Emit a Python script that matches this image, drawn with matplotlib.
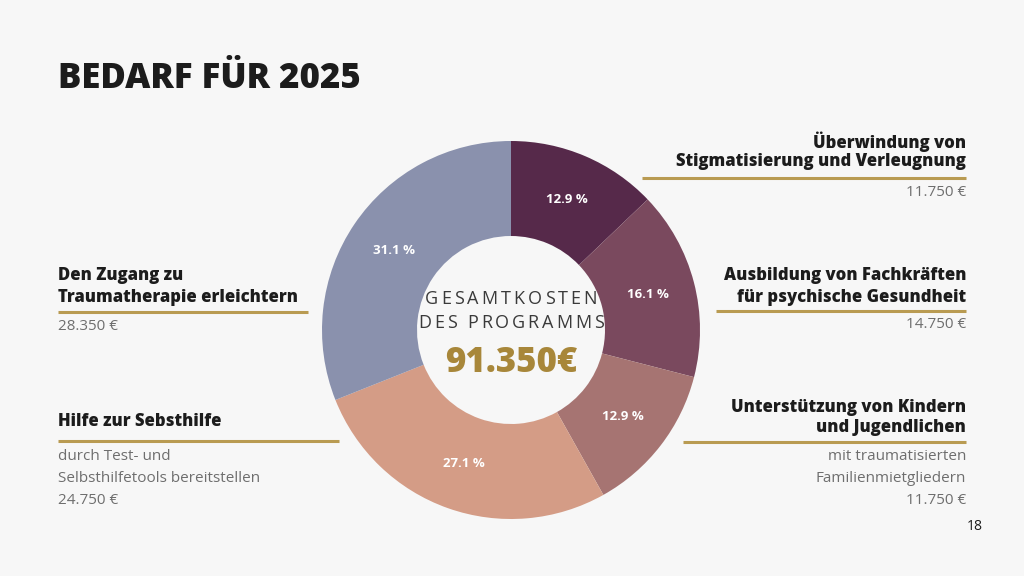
import matplotlib
matplotlib.use("Agg")
import matplotlib.pyplot as plt
from matplotlib.font_manager import FontProperties
from matplotlib.textpath import text_to_path

# Data
categories = [
    "Überwindung von\nStigmatisierung und Verleugnung",
    "Ausbildung von Fachkräften\nfür psychische Gesundheit",
    "Unterstützung von Kindern\nund Jugendlichen",
    "Hilfe zur Sebsthilfe",
    "Den Zugang zu\nTraumatherapie erleichtern",
]
values = [11750, 14750, 11750, 24750, 28350]
pct_labels = ["12.9 %", "16.1 %", "12.9 %", "27.1 %", "31.1 %"]
amount_labels = ["11.750 €", "14.750 €", "11.750 €", "24.750 €", "28.350 €"]
subtexts = ["", "", "mit traumatisierten\nFamilienmietgliedern", "durch Test- und\nSelbsthilfetools bereitstellen", ""]
colors = ["#56294a", "#7a495e", "#a67472", "#d49c86", "#8a91ad"]
total_label = "91.350€"

W, H = 1024, 576
BG = "#f7f7f7"
GOLD = "#b99b52"
GRAY = "#6e6e6e"
DARK = "#1c1c1c"

fig = plt.figure(figsize=(W / 100, H / 100), dpi=100, facecolor=BG)
ax = fig.add_axes([0, 0, 1, 1])

def Y(y):
    return H - y

cx, cy, R, r_in = 511, 330, 189, 94
wedges, texts = ax.pie(values, colors=colors, startangle=90, counterclock=False,
                       center=(cx, Y(cy)), radius=R, labels=pct_labels, labeldistance=0.75,
                       wedgeprops=dict(width=R - r_in, edgecolor="none"),
                       textprops=dict(color="white", fontsize=9.5, fontweight="bold", family="Open Sans"))
ax.set_xlim(0, W)
ax.set_ylim(0, H)
ax.set_aspect("equal")
ax.axis("off")
for t in texts:
    t.set_ha("center"); t.set_va("center")

HEAD = dict(family="Open Sans", fontweight=800, color=DARK, fontsize=12)
BODY = dict(family="Open Sans", color=GRAY, fontsize=11)

# Title
ax.text(58, Y(79), "BEDARF FÜR 2025", family="Open Sans", fontweight=800, color=DARK,
        fontsize=25, ha="left", va="center")

# Right top
ax.text(966, Y(142), "Überwindung von", ha="right", va="center", **HEAD)
ax.text(966, Y(162), "Stigmatisierung und Verleugnung", ha="right", va="center", **HEAD)
ax.plot([642, 966], [Y(178), Y(178)], color=GOLD, lw=2.2, solid_capstyle="butt")
ax.text(966, Y(192), amount_labels[0], ha="right", va="center", **BODY)

# Right middle
ax.text(966, Y(275), "Ausbildung von Fachkräften", ha="right", va="center", **HEAD)
ax.text(966, Y(297), "für psychische Gesundheit", ha="right", va="center", **HEAD)
ax.plot([716, 966], [Y(311), Y(311)], color=GOLD, lw=2.2, solid_capstyle="butt")
ax.text(966, Y(325), amount_labels[1], ha="right", va="center", **BODY)

# Right bottom
ax.text(966, Y(407), "Unterstützung von Kindern", ha="right", va="center", **HEAD)
ax.text(966, Y(427), "und Jugendlichen", ha="right", va="center", **HEAD)
ax.plot([683, 966], [Y(442), Y(442)], color=GOLD, lw=2.2, solid_capstyle="butt")
for i, line in enumerate(subtexts[2].split("\n")):
    ax.text(966, Y(456 + 22.5 * i), line, ha="right", va="center", **BODY)
ax.text(966, Y(501), amount_labels[2], ha="right", va="center", **BODY)

# Left middle
ax.text(58, Y(275), "Den Zugang zu", ha="left", va="center", **HEAD)
ax.text(58, Y(297), "Traumatherapie erleichtern", ha="left", va="center", **HEAD)
ax.plot([58, 308], [Y(312), Y(312)], color=GOLD, lw=2.2, solid_capstyle="butt")
ax.text(58, Y(326), amount_labels[4], ha="left", va="center", **BODY)

# Left bottom
ax.text(58, Y(422), "Hilfe zur Sebsthilfe", ha="left", va="center", **HEAD)
ax.plot([58, 339], [Y(441), Y(441)], color=GOLD, lw=2.2, solid_capstyle="butt")
for i, line in enumerate(subtexts[3].split("\n")):
    ax.text(58, Y(456 + 22.5 * i), line, ha="left", va="center", **BODY)
ax.text(58, Y(501), amount_labels[3], ha="left", va="center", **BODY)

# Center text with letter spacing
def tracked(s, xc, y, width, fs, **kw):
    prop = FontProperties(family="Open Sans", size=fs)
    ws = []
    for ch in s:
        if ch == " ":
            w = text_to_path.get_text_width_height_descent("a a", prop, ismath=False)[0] - \
                text_to_path.get_text_width_height_descent("aa", prop, ismath=False)[0]
        else:
            w = text_to_path.get_text_width_height_descent(ch, prop, ismath=False)[0]
        ws.append(w * 100 / 72)
    base = sum(ws)
    track = (width - base) / (len(s) - 1)
    x = xc - width / 2
    for ch, w in zip(s, ws):
        ax.text(x, y, ch, ha="left", va="center", fontproperties=prop, **kw)
        x += w + track

tracked("GESAMTKOSTEN", cx, Y(299), 172, 13, color="#3a3a3a")
tracked("DES PROGRAMMS", cx, Y(323), 186, 13, color="#3a3a3a")
ax.text(cx, Y(363), total_label, ha="center", va="center", family="Open Sans", fontweight=800,
        color="#a8873a", fontsize=25)

# Page number
ax.text(975, Y(527), "18", ha="center", va="center", family="Open Sans", color=DARK, fontsize=10)

fig.savefig("out.png", dpi=100, facecolor=BG)
